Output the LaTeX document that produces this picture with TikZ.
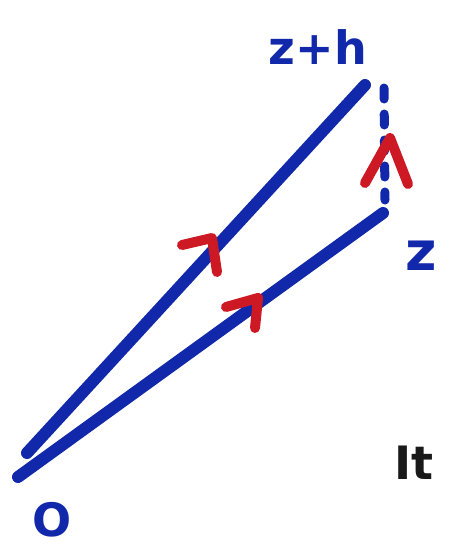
\documentclass[tikz,border=0pt]{standalone}
\usepackage{fontspec}
\setmainfont{DejaVu Sans}
\begin{document}
\begin{tikzpicture}[x=1pt,y=-1pt,
  pen/.style={line width=12pt,line cap=round,line join=round},
  blueline/.style={pen,draw=inkblue},
  dashline/.style={line width=9pt,line cap=round,draw=inkblue,dash pattern=on 11pt off 15pt},
  redmark/.style={line width=10pt,line cap=round,line join=round,draw=inkred},
  lbl/.style={font=\bfseries\fontsize{46}{46}\selectfont,inner sep=0pt}]
\definecolor{inkblue}{RGB}{18,40,170}
\definecolor{inkred}{RGB}{205,25,35}
\definecolor{inkblack}{RGB}{25,25,25}
\useasboundingbox (0,0) rectangle (450,560);
% points
\coordinate (o1) at (27,453);
\coordinate (o2) at (18,477);
\coordinate (zh) at (365,85);
\coordinate (z) at (383,213);
\coordinate (zhd) at (384,88);
\coordinate (zd) at (385,200);
% lines
\draw[blueline] (o1) -- (zh);
\draw[blueline] (o2) -- (z);
\draw[dashline] (zhd) -- (zd);
% red arrow marks
\coordinate (a1) at (212,238);
\coordinate (a2) at (258,298);
\coordinate (a3) at (390,138);
\draw[redmark] (182,245) -- (a1) -- (217,272);
\draw[redmark] (226,307) -- (a2) -- (255,328);
\draw[redmark] (365,183) -- (a3) -- (408,184);
% labels
\node[lbl,text=inkblue] (lzh) at (318,47) {z+h};
\node[lbl,text=inkblue,font=\bfseries\fontsize{54}{54}\selectfont] (lz) at (421,256) {z};
\node[lbl,text=inkblue] (lo) at (52,520) {O};
\node[lbl,text=inkblack] (lit) at (414,463) {It};
\end{tikzpicture}
\end{document}
